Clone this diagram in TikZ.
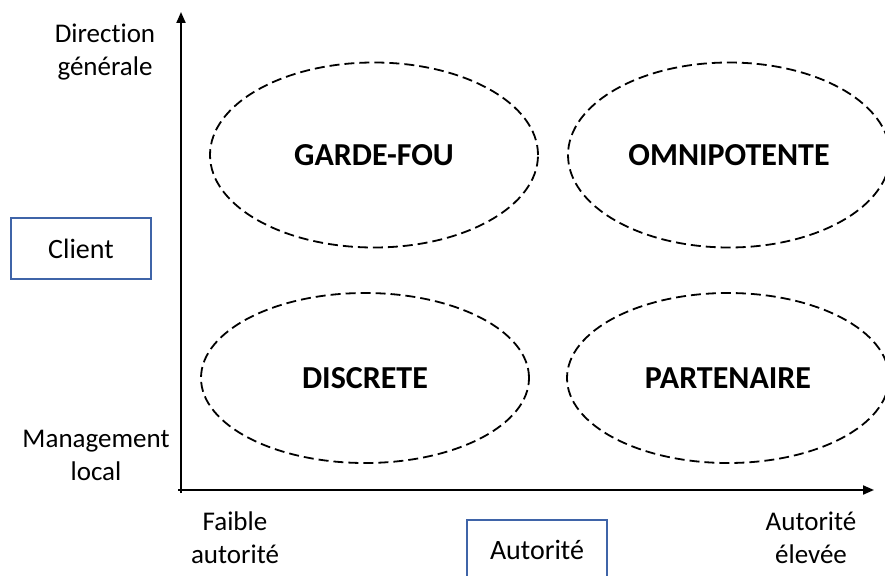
\documentclass[tikz,border=0pt]{standalone}
\usepackage{fontspec}
\setmainfont{Carlito}[Ligatures={NoCommon}]
\usetikzlibrary{shapes.geometric,arrows.meta}
\definecolor{boxblue}{HTML}{3F64A8}
\tikzset{
  quad/.style={ellipse, draw=black, line width=1.8pt, dash pattern=on 10pt off 5pt,
    minimum width=328pt, minimum height=185pt, inner sep=0pt,
    font=\fontsize{32}{38}\selectfont\bfseries},
  axis/.style={line width=2pt, draw=black},
  tip/.style={-{Triangle[length=11pt,width=9pt]}},
  lbl/.style={align=center, font=\fontsize{27}{33}\selectfont, inner sep=0pt},
  catbox/.style={draw=boxblue, line width=1.6pt, font=\fontsize{28}{33}\selectfont,
    inner sep=0pt, minimum width=140pt, minimum height=61pt}
}
\begin{document}
\begin{tikzpicture}[x=1pt,y=-1pt]
\useasboundingbox (0,0) rectangle (885,575);
\fill[white] (0,0) rectangle (885,575);
% axes
\coordinate (otop) at (181,12);
\coordinate (obot) at (181,493);
\coordinate (oleft) at (178,490);
\coordinate (oright) at (874,490);
\draw[axis,tip] (obot) -- (otop);
\draw[axis,tip] (oleft) -- (oright);
% quadrants
\node[quad] (gf) at (374,155) {GARDE-FOU};
\node[quad, minimum width=322pt] (om) at (729,155) {OMNIPOTENTE};
\node[quad, minimum height=170pt] (di) at (365,378) {DISCRETE};
\node[quad, minimum height=170pt, minimum width=322pt] (pa) at (728,378) {PARTENAIRE};
% labels
\node[lbl] (dg) at (105,52) {Direction\\générale};
\node[lbl] (ml) at (96,455) {Management\\local};
\node[lbl] (fa) at (235,538) {Faible\\autorité};
\node[lbl] (ae) at (811,538) {Autorité\\élevée};
\node[catbox] (cl) at (81,248.5) {Client};
\node[catbox, anchor=north] (au) at (537,519) {Autorité};
\end{tikzpicture}
\end{document}
